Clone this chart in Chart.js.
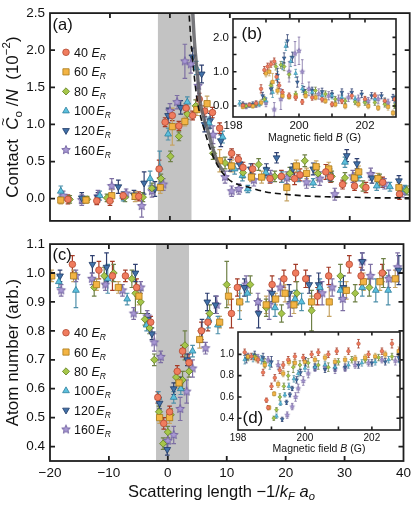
<!DOCTYPE html>
<html><head><meta charset="utf-8">
<script src="https://cdn.jsdelivr.net/npm/chart.js@4.4.1/dist/chart.umd.min.js"></script>
<style>
html,body{margin:0;padding:0;background:#fff;}
#wrap{position:relative;width:415px;height:505px;overflow:hidden;background:#fff;}
canvas{position:absolute;}
</style></head><body>
<div id="wrap">
<canvas id="cA" style="left:0px;top:0px" width="415" height="234"></canvas>
<canvas id="cC" style="left:0px;top:231px" width="415" height="274"></canvas>
<canvas id="cB" style="left:200px;top:8px" width="200" height="145"></canvas>
<canvas id="cD" style="left:205px;top:322px" width="200" height="137"></canvas>
</div>
<script>
// ---------- categories / tick labels ----------
const seriesNames = ['40','60','80','100','120','160'];
const xTicksMain = [-20,-10,0,10,20,30,40];
const yTicksA = [0,0.5,1.0,1.5,2.0,2.5];
const yTicksC = [0.4,0.5,0.6,0.7,0.8,0.9,1.0,1.1];
const xTicksInset = [198,199,200,201,202];
const xLabelsInset = [198,200,202];
const yTicksB = [0,0.5,1.0,1.5,2.0];
const yLabelsB = [0,1.0,2.0];
const yTicksD = [0.4,0.6,0.8,1.0];
const bandRange = [-2.0, 3.6];

// ---------- panel (a): contact vs scattering length ----------
const a40x = [-17,-12.2,-10,-7.8,-5.2,-1.8,-0.8,0.4,1.5,2.7,3.8,4.9,5.8,7.1,8.3,10.3,11.4,12.2,13.8,16.7,18.6,20.8,21.7,26,26.8,28.8,30.8,32.7,35.5,38.3];
const a40y = [-0.01,-0.03,-0.03,0.04,0.03,0.40,1.03,1.12,0.98,1.22,1.12,1.34,1.18,1.16,0.95,0.61,0.53,0.42,0.40,0.27,0.30,0.27,0.32,0.36,0.29,0.19,0.17,0.15,0.22,0.06];
const a40e = [0.06,0.05,0.06,0.05,0.06,0.12,0.06,0.07,0.06,0.06,0.06,0.08,0.07,0.07,0.07,0.06,0.06,0.07,0.07,0.06,0.08,0.08,0.08,0.10,0.07,0.06,0.06,0.07,0.07,0.07];
const a60x = [-18.2,-14,-9.7,-5.8,-1.6,0.4,2.5,4.5,6.2,8.3,10.3,13.6,15.3,19.5,21.1,22.8,24.4,26.5,30.8,31.5,34.7,38.2];
const a60y = [-0.02,-0.02,0.04,0.03,0.15,0.97,1.04,1.20,1.28,0.51,0.44,0.29,0.29,0.15,0.44,0.34,0.43,0.40,0.28,0.36,0.27,0.15];
const a60e = [0.05,0.04,0.08,0.07,0.08,0.25,0.06,0.08,0.10,0.15,0.08,0.06,0.08,0.18,0.08,0.07,0.08,0.09,0.07,0.08,0.07,0.07];
const a80x = [-16.7,-13.8,-10.5,-7.5,-4.5,-3,-1.5,0.1,1.5,2.9,4.3,7.2,9.2,12.2,14.8,17.5,20,22.5,24.7,27,29.2,32.2,35,39.5];
const a80y = [-0.01,-0.01,0.01,0.02,0.02,0.14,0.27,0.57,0.84,1.14,1.25,0.61,0.48,0.35,0.46,0.30,0.34,0.51,0.34,0.30,0.28,0.17,0.25,0.11];
const a80e = [0.05,0.04,0.05,0.06,0.06,0.07,0.06,0.07,0.06,0.07,0.08,0.08,0.08,0.07,0.08,0.07,0.08,0.08,0.09,0.07,0.07,0.07,0.08,0.06];
const a100x = [-18.2,-11.7,-7.8,-3.3,-1.7,-0.3,2.9,4.4,6.5,8.8,10.8,12.1,13,16,18.7,21.5,23.9,26.5,29.2,31.5,34.5,36.7,39.2];
const a100y = [0.10,0.04,0.03,0.27,0.42,0.87,1.30,1.76,1.02,0.83,0.40,0.31,0.13,0.35,0.29,0.30,0.21,0.33,0.49,0.31,0.17,0.16,0.12];
const a100e = [0.07,0.06,0.06,0.10,0.22,0.08,0.07,0.09,0.08,0.08,0.07,0.07,0.05,0.07,0.07,0.07,0.06,0.07,0.07,0.07,0.06,0.06,0.06];
const a120x = [-14.7,-12,-8.6,-6,-4.3,-2.5,-0.3,1.8,3.8,5.3,5.8,6.7,8.5,10,11.6,13.5,16.1,17.8,20.5,23.9,26.7,29.5,31.2,33.7,38.2];
const a120y = [0.01,0.02,0.16,0.05,0.21,0.13,1.12,1.23,1.91,1.68,1.00,1.05,0.78,0.45,0.47,0.40,0.39,0.55,0.40,0.40,0.32,0.58,0.47,0.28,0.24];
const a120e = [0.07,0.06,0.09,0.06,0.15,0.10,0.10,0.09,0.12,0.12,0.10,0.10,0.08,0.08,0.07,0.07,0.08,0.07,0.07,0.08,0.08,0.08,0.07,0.07,0.07];
const a160x = [-17.8,-14.7,-12,-9.7,-7.3,-4.7,-3,-1.1,0,1.2,2.5,3.5,4.7,7.2,9.2,10.3,11.5,14,16.8,19.5,22.8,25,27.5,30.5,33.5,35.8,38.8];
const a160y = [0.04,-0.02,0.03,0.17,0.07,-0.10,0.10,0.19,1.18,1.30,1.85,1.81,1.52,0.86,0.29,0.10,0.13,0.25,0.30,0.28,0.22,0.27,0.06,0.30,0.33,0.20,0.09];
const a160e = [0.06,0.07,0.08,0.10,0.06,0.15,0.08,0.08,0.10,0.09,0.23,0.12,0.15,0.12,0.08,0.07,0.07,0.08,0.08,0.08,0.08,0.09,0.08,0.08,0.08,0.07,0.07];
// theory curves in (a)
const dashX = [3.1,3.5,4.0,4.6,5.2,5.8,7,8,9.4,10.5,13.3,16,19,22,26,30,35,40];
const dashY = [2.6,2.15,1.7,1.3,1.08,0.91,0.61,0.44,0.29,0.22,0.15,0.09,0.06,0.04,0.025,0.02,0.01,0.01];
const solidX = [3.75,4.1,4.5,5.0,5.6,6.2,7.0,8.0,9.0];
const solidY = [2.6,2.1,1.75,1.33,1.1,0.95,0.72,0.48,0.36];

// ---------- panel (c): atom number vs scattering length ----------
const c40x = [-16.2,-11.7,-9.4,-7.2,-5.3,-2.9,-1.7,-0.7,0.3,1.6,2.5,3.6,5.7,6.8,10.8,11.8,17.7,19.7,21.7,23.4,25.4,27.3,30.8,32.8,36.4];
const c40y = [1.03,1.01,0.99,0.99,0.95,0.83,0.57,0.48,0.52,0.66,0.73,0.69,0.80,0.83,0.86,0.95,0.96,0.98,1.00,0.98,0.92,0.99,1.03,0.99,1.00];
const c40e = [0.03,0.03,0.05,0.02,0.03,0.02,0.02,0.02,0.02,0.02,0.02,0.03,0.03,0.03,0.05,0.03,0.03,0.03,0.03,0.03,0.03,0.03,0.03,0.03,0.03];
const c60x = [-19.7,-16,-12.1,-8.4,-4.9,-1.4,0.3,1.9,5.4,8.8,10.3,12.2,16.7,18.3,19.9,21.4,24.4,27.4,30.3,33.2,36,38.6];
const c60y = [0.99,0.99,0.96,0.95,0.92,0.50,0.50,0.62,0.77,0.83,0.92,0.90,0.89,0.91,0.93,0.89,0.90,0.90,0.94,0.97,0.97,0.98];
const c60e = [0.02,0.02,0.02,0.02,0.03,0.02,0.02,0.02,0.03,0.02,0.03,0.03,0.03,0.02,0.03,0.03,0.02,0.05,0.03,0.03,0.03,0.03];
const c80x = [-12.5,-10.8,-9.2,-6.1,-5.5,-4.6,-3.9,-3.1,-2.3,-1.5,-0.8,0,0.5,1.4,2.5,2.9,3.6,7.1,10,14,16.7,19.3,21.9,24.4,29.3,31.8,34.2,36.6];
const c80y = [0.95,0.99,1.00,0.98,0.93,0.90,0.84,0.81,0.70,0.52,0.41,0.45,0.51,0.64,0.63,0.75,0.66,0.86,0.96,0.96,0.88,0.86,0.93,0.87,0.99,0.93,0.95,1.00];
const c80e = [0.03,0.03,0.03,0.03,0.07,0.04,0.02,0.02,0.02,0.02,0.02,0.02,0.02,0.02,0.03,0.05,0.02,0.03,0.08,0.03,0.03,0.03,0.04,0.07,0.04,0.03,0.03,0.05];
const c100x = [-18.5,-15.6,-10.2,-6.9,-3.6,-1.6,1,2.2,4.2,6.9,8.5,12.2,13.5,18.2,21.6,22.7,25.8,29.3,33,35.3,37.4];
const c100y = [0.97,0.94,0.98,0.91,0.82,0.57,0.57,0.60,0.73,0.84,0.82,0.90,0.93,0.88,0.91,0.90,0.95,0.94,0.95,0.94,0.94];
const c100e = [0.02,0.06,0.05,0.02,0.02,0.02,0.02,0.02,0.02,0.03,0.03,0.06,0.03,0.03,0.03,0.03,0.03,0.03,0.03,0.04,0.05];
const c120x = [-18.3,-12.8,-10.4,-5.5,-3.4,-2.7,-1.4,-0.1,1,2.2,3.3,5.8,6.7,8.1,13,15.4,17.7,20.6,24,25.6,29.8,33,39.2];
const c120y = [0.99,1.03,1.02,1.00,0.84,0.79,0.55,0.39,0.60,0.62,0.70,0.80,0.90,0.89,0.95,0.86,0.93,0.93,0.96,0.96,0.95,1.04,1.01];
const c120e = [0.02,0.03,0.05,0.03,0.02,0.02,0.02,0.02,0.02,0.02,0.02,0.04,0.03,0.03,0.03,0.05,0.03,0.03,0.03,0.04,0.04,0.03,0.05];
const c160x = [-18.1,-15.6,-12.9,-10.6,-7.7,-5.8,-4.6,-3.5,-2.3,-1.2,0,1,2.1,3.2,4.2,6.4,8.3,13.3,15.3,17.2,19.1,20.8,26.2,27.9,29.7,33,34.4,37.5,39];
const c160y = [0.94,0.99,0.98,0.96,0.94,0.86,0.95,0.85,0.76,0.71,0.42,0.44,0.53,0.59,0.67,0.74,0.89,0.96,0.90,0.89,0.95,0.89,0.93,0.95,0.91,1.04,0.99,0.98,1.02];
const c160e = [0.02,0.02,0.02,0.02,0.02,0.02,0.02,0.02,0.03,0.02,0.03,0.03,0.04,0.04,0.03,0.02,0.03,0.03,0.03,0.05,0.03,0.04,0.04,0.03,0.04,0.03,0.04,0.03,0.05];

// ---------- inset (b): contact vs magnetic field ----------
const b40x = [198.3,198.5,198.7,198.85,198.95,199.05,199.15,199.25,199.32,199.4,199.5,199.7,199.9,200.1,200.4,200.7,201.0,201.3,201.6,202.0,202.3,202.6,202.9];
const b40y = [0.02,0.03,0.08,0.50,1.05,1.15,1.22,1.30,0.85,0.60,0.40,0.30,0.25,0.12,0.25,0.20,0.05,0.15,0.30,0.20,0.30,0.15,0.20];
const b40e = [0.06,0.06,0.07,0.12,0.10,0.10,0.09,0.10,0.10,0.09,0.08,0.08,0.08,0.07,0.08,0.08,0.07,0.08,0.09,0.08,0.08,0.08,0.08];
const b60x = [198.3,198.6,198.85,199.0,199.1,199.2,199.35,199.5,199.7,199.9,200.2,200.5,200.8,201.1,201.4,201.8,202.1,202.4,202.7,202.85];
const b60y = [-0.02,0.00,0.10,0.95,1.00,0.70,0.45,0.30,0.27,0.28,0.30,0.25,0.15,0.05,0.00,0.05,0.00,-0.05,-0.02,-0.20];
const b60e = [0.06,0.06,0.08,0.10,0.12,0.25,0.10,0.08,0.07,0.07,0.07,0.07,0.07,0.07,0.08,0.08,0.08,0.08,0.10,0.08];
const b80x = [198.4,198.7,198.95,199.15,199.3,199.45,199.55,199.7,199.9,200.2,200.5,200.8,201.1,201.4,201.7,202.0,202.3,202.6,202.9];
const b80y = [0.00,0.05,0.20,0.60,1.15,1.20,1.15,0.92,0.35,0.40,0.45,0.35,0.20,0.15,0.12,0.10,0.10,0.05,0.00];
const b80e = [0.06,0.07,0.08,0.10,0.10,0.10,0.12,0.10,0.08,0.08,0.10,0.09,0.08,0.08,0.08,0.08,0.08,0.08,0.07];
const b100x = [198.2,198.5,198.8,199.0,199.2,199.35,199.5,199.6,199.75,199.9,200.1,200.4,200.7,201.0,201.3,201.7,202.0,202.3,202.6,202.9];
const b100y = [0.08,0.02,0.05,0.15,0.40,0.80,1.18,1.74,1.30,0.95,0.50,0.40,0.30,0.30,0.25,0.20,0.15,0.20,0.15,0.20];
const b100e = [0.08,0.06,0.07,0.10,0.15,0.20,0.12,0.12,0.15,0.12,0.10,0.10,0.09,0.09,0.09,0.09,0.08,0.09,0.08,0.10];
const b120x = [198.3,198.6,198.9,199.15,199.35,199.55,199.65,199.8,199.95,200.15,200.4,200.7,201.0,201.3,201.6,201.9,202.2,202.5,202.85];
const b120y = [0.05,0.05,0.30,0.50,0.90,1.40,1.90,1.42,0.70,0.45,0.45,0.42,0.35,0.40,0.40,0.35,0.30,0.30,0.25];
const b120e = [0.07,0.07,0.10,0.15,0.20,0.15,0.18,0.15,0.15,0.12,0.10,0.10,0.10,0.10,0.10,0.10,0.09,0.09,0.09];
const b160x = [198.4,198.7,199.0,199.25,199.45,199.7,199.88,200.0,200.1,200.3,200.6,200.9,201.2,201.5,201.8,202.1,202.4,202.7];
const b160y = [0.00,0.05,0.10,-0.10,0.20,1.00,1.53,1.61,1.00,0.50,0.35,0.30,0.20,0.25,0.20,0.15,0.20,0.10];
const b160e = [0.08,0.09,0.12,0.20,0.30,0.30,0.35,0.40,0.35,0.20,0.15,0.12,0.12,0.12,0.12,0.10,0.12,0.10];

// ---------- inset (d): atom number vs magnetic field ----------
const d40x = [198.2,198.4,198.6,198.75,198.85,198.9,199.0,199.1,199.25,199.35,199.5,199.7,199.95,200.2,200.4,200.7,200.95,201.3,201.6,201.9,202.3,202.6,202.85];
const d40y = [1.02,0.98,0.95,0.83,0.57,0.50,0.70,0.78,0.85,0.90,0.95,0.98,0.97,1.00,1.02,1.00,1.03,1.03,1.10,1.00,1.03,1.10,1.05];
const d40e = [0.03,0.03,0.03,0.03,0.02,0.02,0.03,0.03,0.03,0.03,0.03,0.03,0.03,0.03,0.03,0.03,0.03,0.03,0.04,0.03,0.03,0.04,0.04];
const d60x = [198.3,198.55,198.8,198.93,199.08,199.2,199.35,199.52,199.7,200.0,200.3,200.6,200.9,201.2,201.5,201.8,202.1,202.4,202.8];
const d60y = [0.98,0.96,0.90,0.50,0.63,0.72,0.82,0.93,0.92,0.93,0.95,0.97,0.93,0.95,0.96,0.97,0.98,1.00,1.03];
const d60e = [0.03,0.03,0.03,0.02,0.02,0.03,0.03,0.03,0.03,0.03,0.03,0.03,0.03,0.03,0.03,0.03,0.03,0.03,0.04];
const d80x = [198.3,198.5,198.8,199.07,199.15,199.25,199.37,199.5,199.65,199.85,200.1,200.4,200.7,201.0,201.4,201.8,202.2,202.6];
const d80y = [0.97,0.98,0.92,0.40,0.48,0.60,0.70,0.80,0.88,0.90,0.92,0.90,0.88,0.93,0.95,0.95,0.97,0.98];
const d80e = [0.03,0.03,0.04,0.02,0.02,0.03,0.03,0.04,0.05,0.04,0.04,0.04,0.04,0.03,0.03,0.03,0.03,0.03];
const d100x = [198.2,198.45,198.7,198.95,199.15,199.27,199.4,199.52,199.67,199.8,200.0,200.3,200.6,200.9,201.3,201.7,202.1,202.5,202.85];
const d100y = [0.95,0.97,0.95,0.90,0.42,0.54,0.62,0.70,0.77,0.82,0.87,0.88,0.90,0.88,0.90,0.92,0.93,0.95,0.93];
const d100e = [0.04,0.04,0.04,0.04,0.02,0.02,0.02,0.03,0.03,0.03,0.03,0.03,0.03,0.03,0.03,0.03,0.03,0.03,0.04];
const d120x = [198.25,198.5,198.75,199.0,199.32,199.45,199.55,199.62,199.75,199.87,200.02,200.3,200.6,200.9,201.2,201.6,202.0,202.4,202.8];
const d120y = [0.96,0.99,0.97,0.93,0.39,0.55,0.62,0.68,0.76,0.83,0.93,0.88,0.86,0.87,0.88,0.90,0.92,0.93,0.97];
const d120e = [0.04,0.04,0.04,0.05,0.02,0.02,0.02,0.02,0.03,0.03,0.04,0.03,0.03,0.03,0.03,0.03,0.03,0.03,0.04];
const d160x = [198.3,198.6,198.9,199.2,199.47,199.62,199.72,199.8,199.95,200.1,200.3,200.6,200.9,201.2,201.5,201.9,202.3,202.7];
const d160y = [0.98,0.97,0.95,0.90,0.43,0.51,0.60,0.68,0.75,0.82,0.87,0.88,0.86,0.87,0.90,0.92,0.95,0.94];
const d160e = [0.03,0.03,0.03,0.04,0.03,0.03,0.04,0.04,0.04,0.04,0.03,0.03,0.04,0.03,0.03,0.03,0.03,0.04];

// ---------- styling ----------
const FAM = '"Liberation Sans", Arial, Helvetica, sans-serif';
Chart.defaults.font.family = FAM;
Chart.defaults.color = '#111';
const STY = [
  {ps:'circle',  rot:0,   r:3.3, fill:'#f07c5e', edge:'#b24a33', err:'#a33a26'},
  {ps:'rect',    rot:0,   r:4.4, fill:'#f3b444', edge:'#a87818', err:'#c6a464'},
  {ps:'rectRot', rot:0,   r:3.6, fill:'#a6c64a', edge:'#5f7f22', err:'#6e8046'},
  {ps:'triangle',rot:0,   r:3.9, fill:'#5cc0dd', edge:'#2d7f9d', err:'#4f90aa'},
  {ps:'triangle',rot:180, r:3.9, fill:'#4171a8', edge:'#1f3a66', err:'#2e3f70'},
  {ps:'star',    rot:0,   r:4.5, fill:'#a898d4', edge:'#6f609e', err:'#7d6fa3'}
];
function starImg(R, fill, edge, lw){
  const s = Math.ceil(R*2+3), c = document.createElement('canvas');
  c.width = c.height = s;
  const g = c.getContext('2d');
  g.beginPath();
  for (let k=0;k<10;k++){
    const rr = k%2 ? R*0.45 : R, an = -Math.PI/2 + k*Math.PI/5;
    const px = s/2 + rr*Math.cos(an), py = s/2 + rr*Math.sin(an);
    if (k) g.lineTo(px,py); else g.moveTo(px,py);
  }
  g.closePath(); g.fillStyle = fill; g.fill();
  g.strokeStyle = edge; g.lineWidth = lw; g.stroke();
  return c;
}
function pts(xs, ys){ return xs.map((x,i)=>({x:x, y:ys[i]})); }
function makeSets(X, Y, E, k){
  return STY.map((s,i)=>({
    label: seriesNames[i] + ' E_R',
    data: pts(X[i], Y[i]),
    errs: E[i], errColor: s.err,
    pointStyle: s.ps==='star' ? starImg(s.r*k, s.fill, s.edge, k<1?0.6:0.9) : s.ps,
    rotation: s.rot, pointRadius: s.r*k, pointHoverRadius: s.r*k,
    backgroundColor: s.fill, borderColor: s.edge,
    pointBackgroundColor: s.fill, pointBorderColor: s.edge, pointBorderWidth: k<1?0.5:0.8,
    showLine: false, order: 1
  }));
}

function rich(ctx, segs, x, y, size, align){
  const f = s => (s.i?'italic ':'') + ((s.s||s.p)? (size*0.68).toFixed(1) : size) + 'px ' + FAM;
  let tot = 0;
  const ws = segs.map(s=>{ ctx.font = f(s); const w = ctx.measureText(s.t).width + (s.g||0); tot += w; return w; });
  let cx = align==='center' ? x - tot/2 : x;
  ctx.textAlign = 'left'; ctx.textBaseline = 'alphabetic';
  segs.forEach((s,k)=>{
    ctx.font = f(s);
    const dy = s.s ? size*0.24 : (s.p ? -size*0.42 : 0);
    ctx.fillText(s.t, cx, y+dy);
    if (s.tl){
      ctx.font = (size*0.8).toFixed(1)+'px '+FAM;
      ctx.textAlign = 'center';
      ctx.fillText('~', cx + ws[k]/2 + size*0.1, y - size*0.6);
      ctx.textAlign = 'left';
    }
    cx += ws[k];
  });
}

function makeDeco(cfg){
  return {
    id: 'deco',
    beforeDraw(chart){
      if (!cfg.bg) return;
      const a = chart.chartArea, ctx = chart.ctx;
      ctx.save(); ctx.fillStyle = cfg.bg; ctx.fillRect(a.left, a.top, a.width, a.height); ctx.restore();
    },
    beforeDatasetsDraw(chart){
      const ctx = chart.ctx, a = chart.chartArea, xs = chart.scales.x, ys = chart.scales.y;
      ctx.save();
      ctx.beginPath(); ctx.rect(a.left, a.top, a.width, a.height); ctx.clip();
      if (cfg.band){
        const x0 = xs.getPixelForValue(cfg.band[0]), x1 = xs.getPixelForValue(cfg.band[1]);
        ctx.fillStyle = '#c3c3c3'; ctx.fillRect(x0, a.top, x1-x0, a.height);
      }
      chart.data.datasets.forEach(ds=>{
        if (!ds.errs) return;
        ctx.strokeStyle = ds.errColor; ctx.lineWidth = cfg.errW;
        ctx.beginPath();
        ds.data.forEach((p,j)=>{
          const e = ds.errs[j]; if (e == null) return;
          const px = xs.getPixelForValue(p.x), y0 = ys.getPixelForValue(p.y - e), y1 = ys.getPixelForValue(p.y + e);
          ctx.moveTo(px, y0); ctx.lineTo(px, y1);
          ctx.moveTo(px-cfg.cap, y0); ctx.lineTo(px+cfg.cap, y0);
          ctx.moveTo(px-cfg.cap, y1); ctx.lineTo(px+cfg.cap, y1);
        });
        ctx.stroke();
      });
      ctx.restore();
    },
    afterDraw(chart){
      const ctx = chart.ctx, a = chart.chartArea, xs = chart.scales.x, ys = chart.scales.y;
      ctx.save();
      ctx.strokeStyle = '#1e1e1e'; ctx.lineWidth = cfg.frameW;
      const L = cfg.tickL;
      ctx.beginPath();
      xs.ticks.forEach(t=>{
        const px = xs.getPixelForValue(t.value);
        if (px <= a.left+1 || px >= a.right-1) return;
        ctx.moveTo(px, a.bottom); ctx.lineTo(px, a.bottom-L);
        ctx.moveTo(px, a.top); ctx.lineTo(px, a.top+L);
      });
      ys.ticks.forEach(t=>{
        const py = ys.getPixelForValue(t.value);
        if (py <= a.top+1 || py >= a.bottom-1) return;
        ctx.moveTo(a.left, py); ctx.lineTo(a.left+L, py);
        ctx.moveTo(a.right, py); ctx.lineTo(a.right-L, py);
      });
      ctx.stroke();
      ctx.strokeRect(a.left, a.top, a.width, a.height);
      ctx.fillStyle = '#111';
      (cfg.texts||[]).forEach(t=>{
        const x = t.x(a), y = t.y(a);
        if (t.rot){
          ctx.save(); ctx.translate(x, y); ctx.rotate(-Math.PI/2);
          rich(ctx, t.segs, 0, 0, t.size, t.align||'center');
          ctx.restore();
        } else rich(ctx, t.segs, x, y, t.size, t.align||'left');
      });
      if (cfg.legend){
        const lg = cfg.legend;
        chart.data.datasets.forEach((ds,i)=>{
          if (!ds.errs) return;
          const y = lg.y0 + i*lg.dy;
          ctx.save();
          ctx.fillStyle = ds.pointBackgroundColor; ctx.strokeStyle = ds.pointBorderColor; ctx.lineWidth = ds.pointBorderWidth;
          Chart.helpers.drawPoint(ctx, {pointStyle: ds.pointStyle, rotation: ds.rotation, radius: ds.pointRadius, borderWidth: ds.pointBorderWidth}, lg.x, y);
          ctx.restore();
          ctx.fillStyle = '#111';
          const num = seriesNames[i];
          rich(ctx, [{t:num, g: num.length<3?3.5:1.5},{t:'E',i:1},{t:'R',i:1,s:1}], lg.tx, y + lg.size*0.36, lg.size, 'left');
        });
      }
      ctx.restore();
    }
  };
}

const minusFmt = v => (v < 0 ? '\u2212' + Math.abs(v) : String(v));
const tickSet = arr => (s => { s.ticks = arr.map(v=>({value:v})); });
const baseOpts = (pad) => ({
  responsive:false, animation:false, events:[], devicePixelRatio:1,
  layout:{padding:pad},
  plugins:{legend:{display:false}, tooltip:{enabled:false}}
});

// ---------- chart (a) ----------
(function(){
  const sets = makeSets([a40x,a60x,a80x,a100x,a120x,a160x],[a40y,a60y,a80y,a100y,a120y,a160y],[a40e,a60e,a80e,a100e,a120e,a160e],1);
  sets.push({label:'dashed', data: pts(dashX, dashY), showLine:true, borderColor:'#111', borderWidth:1.6, borderDash:[6,4], pointRadius:0, tension:0.4, cubicInterpolationMode:'monotone', order:-2});
  sets.push({label:'solid', data: pts(solidX, solidY), showLine:true, borderColor:'rgba(95,95,100,0.85)', borderWidth:3.5, pointRadius:0, tension:0.4, cubicInterpolationMode:'monotone', order:-1});
  const o = baseOpts({top:8,right:5,left:0,bottom:0});
  o.scales = {
    x:{type:'linear', min:-20, max:40, afterBuildTicks: tickSet(xTicksMain), ticks:{display:false}, grid:{display:false, drawTicks:false}, border:{display:false}, afterFit:s=>{s.height=5;}},
    y:{type:'linear', min:-0.3, max:2.5, afterBuildTicks: tickSet(yTicksA), ticks:{callback:v=>v.toFixed(1), font:{size:13.5}, color:'#111', padding:5}, grid:{display:false, drawTicks:false}, border:{display:false}, afterFit:s=>{s.width=50;}}
  };
  new Chart(document.getElementById('cA'), {type:'scatter', data:{datasets:sets}, options:o, plugins:[makeDeco({
    band: bandRange, errW:1.2, cap:2.3, frameW:1.8, tickL:5,
    legend:{x:66, tx:74, y0:52.3, dy:19.55, size:12.5},
    texts:[
      {segs:[{t:'(a)'}], x:a=>a.left+2.5, y:a=>a.top+17, size:16.5},
      {segs:[{t:'Contact  '},{t:'C',i:1,tl:1},{t:'o',s:1},{t:' /'},{t:'N',i:1},{t:'  (10'},{t:'\u22122',p:1},{t:')'}], x:a=>17.5, y:a=>(a.top+a.bottom)/2, size:17, rot:1}
    ]
  })]});
})();

// ---------- chart (c) ----------
(function(){
  const sets = makeSets([c40x,c60x,c80x,c100x,c120x,c160x],[c40y,c60y,c80y,c100y,c120y,c160y],[c40e,c60e,c80e,c100e,c120e,c160e],1);
  const o = baseOpts({top:8,right:5,left:0,bottom:0});
  o.scales = {
    x:{type:'linear', min:-20, max:40, afterBuildTicks: tickSet(xTicksMain), ticks:{callback:minusFmt, font:{size:13.5}, color:'#111', padding:4, maxRotation:0, autoSkip:false}, grid:{display:false, drawTicks:false}, border:{display:false}, afterFit:s=>{s.height=44;}},
    y:{type:'linear', min:0.35, max:1.1, afterBuildTicks: tickSet(yTicksC), ticks:{callback:v=>v.toFixed(1), font:{size:13.5}, color:'#111', padding:5}, grid:{display:false, drawTicks:false}, border:{display:false}, afterFit:s=>{s.width=50;}}
  };
  new Chart(document.getElementById('cC'), {type:'scatter', data:{datasets:sets}, options:o, plugins:[makeDeco({
    band: bandRange, errW:1.2, cap:2.3, frameW:1.8, tickL:5,
    legend:{x:66, tx:74, y0:101.7, dy:19.35, size:12.5},
    texts:[
      {segs:[{t:'(c)'}], x:a=>a.left+2.5, y:a=>a.top+16, size:16.5},
      {segs:[{t:'Atom number (arb.)'}], x:a=>17.5, y:a=>(a.top+a.bottom)/2, size:17, rot:1},
      {segs:[{t:'Scattering length \u22121/'},{t:'k',i:1},{t:'F',i:1,s:1},{t:' '},{t:'a',i:1},{t:'o',i:1,s:1}], x:a=>221.5, y:a=>265.5, size:16.5, align:'center'}
    ]
  })]});
})();

// ---------- inset (b) ----------
(function(){
  const sets = makeSets([b40x,b60x,b80x,b100x,b120x,b160x],[b40y,b60y,b80y,b100y,b120y,b160y],[b40e,b60e,b80e,b100e,b120e,b160e],0.55);
  const o = baseOpts({top:10,right:4,left:0,bottom:0});
  o.scales = {
    x:{type:'linear', min:198, max:202.94, afterBuildTicks: tickSet(xTicksInset), ticks:{callback:v=>xLabelsInset.includes(v)?String(v):'', font:{size:11.5}, color:'#111', padding:2, maxRotation:0, autoSkip:false}, grid:{display:false, drawTicks:false}, border:{display:false}, afterFit:s=>{s.height=36;}},
    y:{type:'linear', min:-0.32, max:2.54, afterBuildTicks: tickSet(yTicksB), ticks:{callback:v=>yLabelsB.includes(v)?v.toFixed(1):'', font:{size:11.5}, color:'#111', padding:4}, grid:{display:false, drawTicks:false}, border:{display:false}, afterFit:s=>{s.width=33;}}
  };
  new Chart(document.getElementById('cB'), {type:'scatter', data:{datasets:sets}, options:o, plugins:[makeDeco({
    bg:'#ffffff', errW:0.8, cap:1.3, frameW:1.6, tickL:3.5,
    texts:[
      {segs:[{t:'(b)'}], x:a=>a.left+8.5, y:a=>a.top+20, size:17},
      {segs:[{t:'Magnetic field '},{t:'B',i:1},{t:' (G)'}], x:a=>(a.left+a.right)/2, y:a=>133, size:10.5, align:'center'}
    ]
  })]});
})();

// ---------- inset (d) ----------
(function(){
  const sets = makeSets([d40x,d60x,d80x,d100x,d120x,d160x],[d40y,d60y,d80y,d100y,d120y,d160y],[d40e,d60e,d80e,d100e,d120e,d160e],0.55);
  const o = baseOpts({top:9,right:5,left:0,bottom:0});
  o.scales = {
    x:{type:'linear', min:198, max:202.84, afterBuildTicks: tickSet(xTicksInset), ticks:{callback:v=>xLabelsInset.includes(v)?String(v):'', font:{size:10}, color:'#111', padding:2, maxRotation:0, autoSkip:false}, grid:{display:false, drawTicks:false}, border:{display:false}, afterFit:s=>{s.height=29;}},
    y:{type:'linear', min:0.29, max:1.21, afterBuildTicks: tickSet(yTicksD), ticks:{callback:v=>v.toFixed(1), font:{size:10}, color:'#111', padding:4}, grid:{display:false, drawTicks:false}, border:{display:false}, afterFit:s=>{s.width=33;}}
  };
  new Chart(document.getElementById('cD'), {type:'scatter', data:{datasets:sets}, options:o, plugins:[makeDeco({
    bg:'#ffffff', errW:0.8, cap:1.3, frameW:1.6, tickL:3.5,
    texts:[
      {segs:[{t:'(d)'}], x:a=>a.left+4.5, y:a=>a.bottom-7, size:17},
      {segs:[{t:'Magnetic field '},{t:'B',i:1},{t:' (G)'}], x:a=>(a.left+a.right)/2, y:a=>130, size:10.5, align:'center'}
    ]
  })]});
})();
</script>
</body></html>
